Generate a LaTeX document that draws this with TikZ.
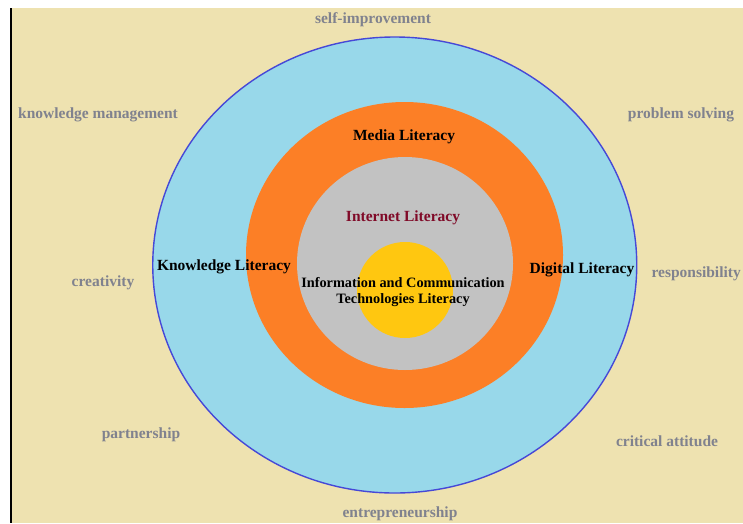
\documentclass[tikz,border=0pt]{standalone}
\usepackage{fontspec}
\setmainfont{Liberation Serif}
\definecolor{paper}{RGB}{238,226,176}
\definecolor{skyring}{RGB}{152,216,234}
\definecolor{rimblue}{RGB}{70,72,215}
\definecolor{orangering}{RGB}{252,127,38}
\definecolor{grayring}{RGB}{194,194,194}
\definecolor{sunring}{RGB}{255,199,16}
\definecolor{skilltext}{RGB}{128,130,142}
\definecolor{wine}{RGB}{128,10,40}
\tikzstyle{skill}=[inner sep=0pt,text=skilltext,font=\bfseries\fontsize{15.5}{18}\selectfont]
\tikzstyle{literacy}=[inner sep=0pt,text=black,font=\bfseries\fontsize{15.5}{18}\selectfont]
\newcommand{\ring}[5]{% Syntax: {fill options}{centre x}{centre y}{x radius}{y radius}
  \fill[#1] (#2,#3) ellipse ({#4} and {#5});
}

\begin{document}
\begin{tikzpicture}[x=1pt,y=-1pt]
	\useasboundingbox (0,0) rectangle (743,523);
	\fill[white] (0,0) rectangle (743,523);
	\fill[paper] (11,8) rectangle (743,523);
	\draw[black,line width=1.5pt] (11,8) -- (11,523);
	\begin{scope}
	\clip (11,8) rectangle (743,523);
	%rings, outside in
	\ring{skyring}{394.75}{265}{242}{228}
	\draw[rimblue,line width=1.4pt] (394.75,265) ellipse (242 and 228);
	\ring{orangering}{404.5}{255}{158.5}{153}
	\ring{grayring}{405}{263.5}{108}{106.5}
	\ring{sunring}{405}{290}{48}{48}
	%ring labels
	\node[literacy] (media) at (404,137) {Media Literacy};
	\node[literacy,text=wine] (internet) at (403,218) {Internet Literacy};
	\node[literacy] (knowledge) at (224,267) {Knowledge Literacy};
	\node[literacy] (digital) at (582,270) {Digital Literacy};
	\node[literacy,align=center,font=\bfseries\fontsize{14.3}{16}\selectfont] (ict) at (403,292) {Information and Communication\\Technologies Literacy};
	%skills round the outside
	\node[skill] (selfimp) at (373,20) {self-improvement};
	\node[skill] (kmanage) at (98,115) {knowledge management};
	\node[skill] (problem) at (681,115) {problem solving};
	\node[skill] (creative) at (103,283) {creativity};
	\node[skill,anchor=east] (respons) at (741,274) {responsibility};
	\node[skill] (partner) at (141,435) {partnership};
	\node[skill] (critical) at (667,441) {critical attitude};
	\node[skill] (entre) at (400,514) {entrepreneurship};
	\end{scope}
\end{tikzpicture}
\end{document}
